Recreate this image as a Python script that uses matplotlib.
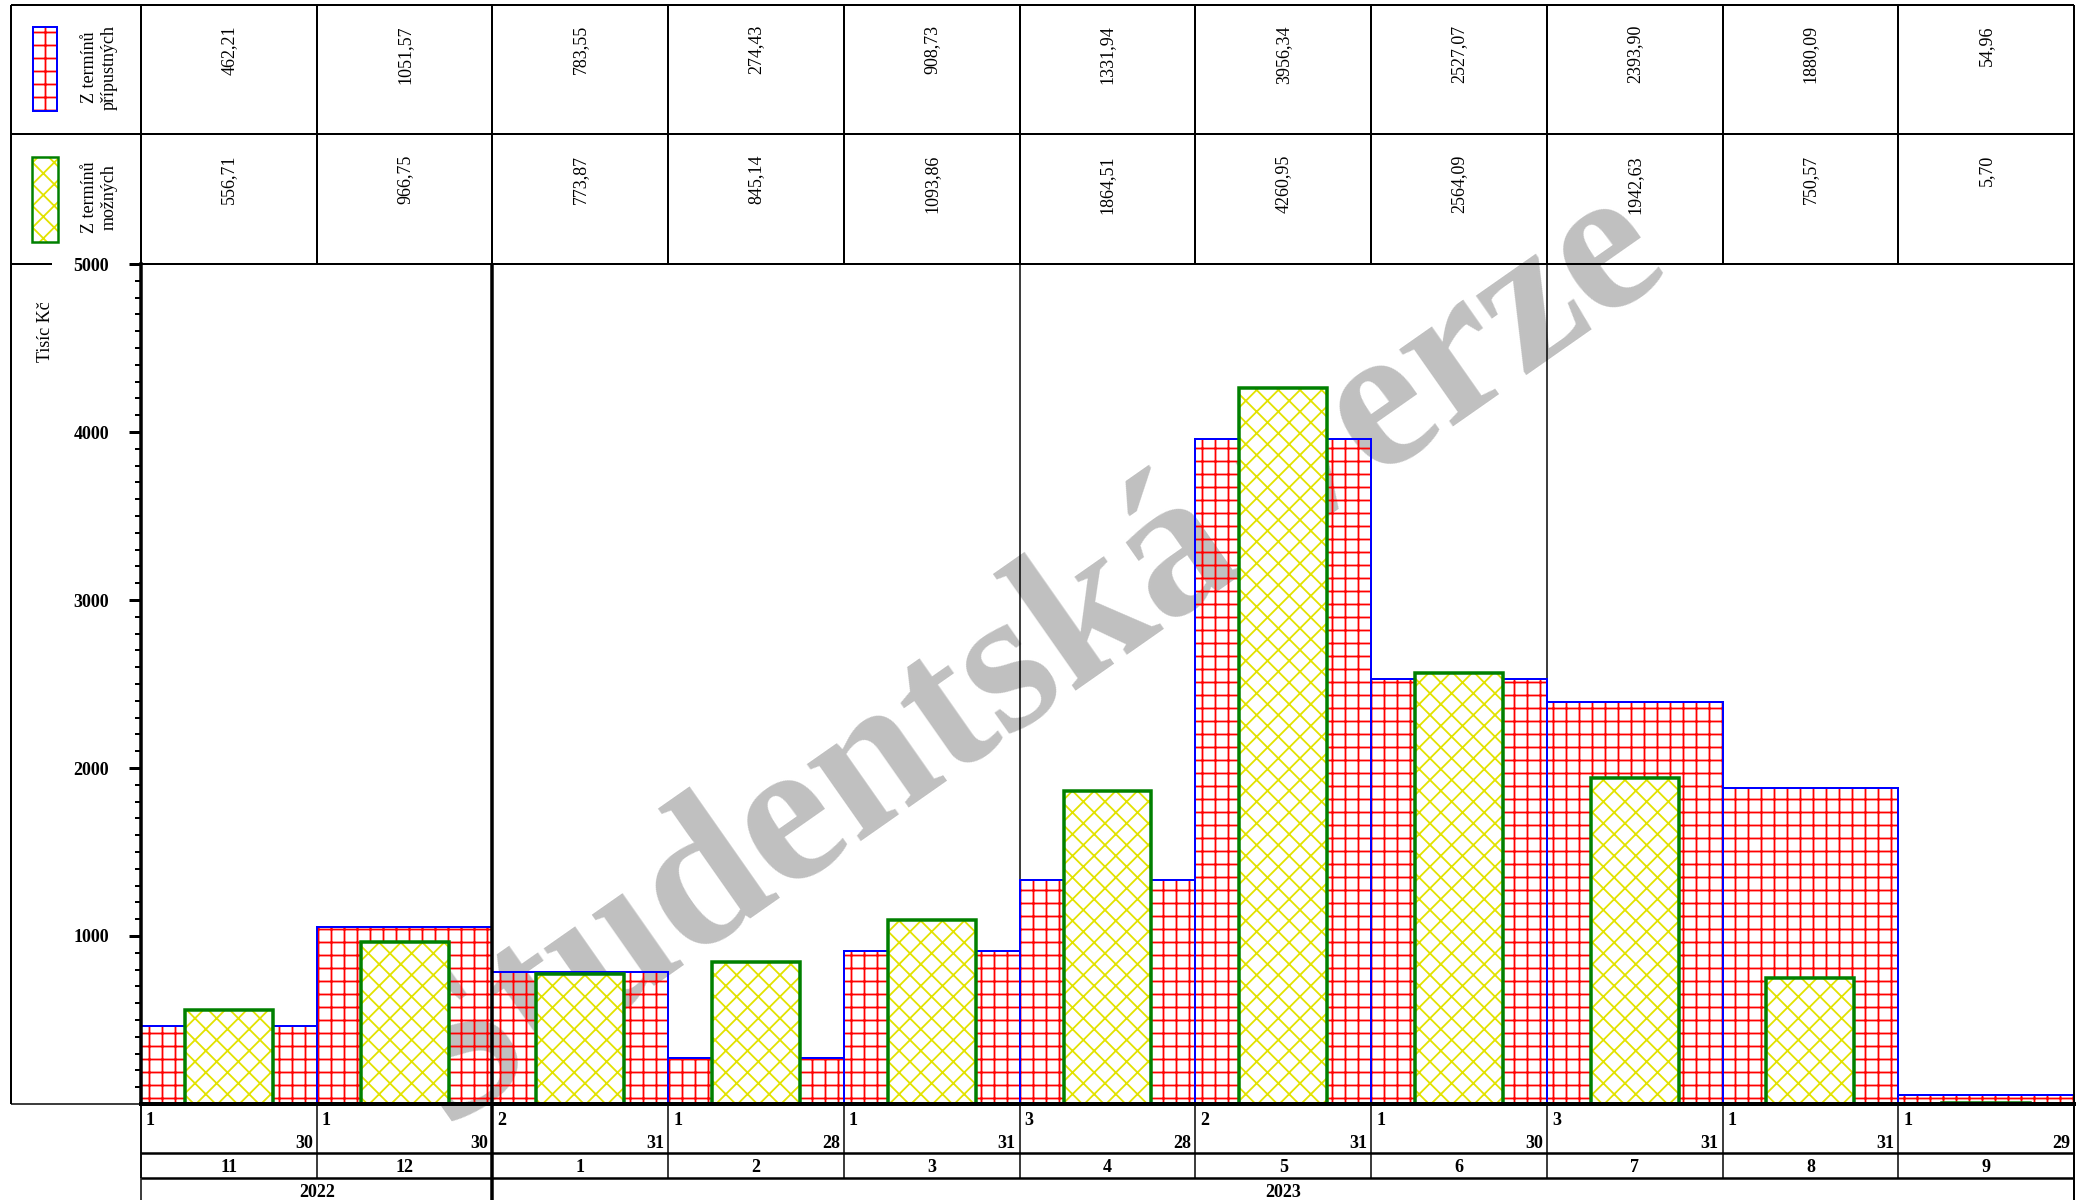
import numpy as np
import matplotlib.pyplot as plt
from matplotlib.patches import Rectangle

# high dpi so that the built-in hatch densities give the spacing of the original
DPI = 390
W, H = 2083, 1200


def px(v):
    # pixels -> points
    return v * 72.0 / DPI


plt.rcParams['font.family'] = ['Liberation Serif', 'DejaVu Serif']
plt.rcParams['hatch.linewidth'] = px(1.8)

months = ['11', '12', '1', '2', '3', '4', '5', '6', '7', '8', '9']
first_day = ['1', '1', '2', '1', '1', '3', '2', '1', '3', '1', '1']
last_day = ['30', '30', '31', '28', '31', '28', '31', '30', '31', '31', '29']
years = ['2022', '2023']
year_start = [0, 2]
pripustne = [462.21, 1051.57, 783.55, 274.43, 908.73, 1331.94,
             3956.34, 2527.07, 2393.90, 1880.09, 54.96]
mozne = [556.71, 966.75, 773.87, 845.14, 1093.86, 1864.51,
         4260.95, 2564.09, 1942.63, 750.57, 5.70]
yticks = [1000, 2000, 3000, 4000, 5000]

n = len(months)
# frame in pixels
X0, X1, XL = 141, 2074, 11
Y_T, Y_R1, Y_R2, Y_B, Y_D, Y_M = 5, 134, 264, 1104, 1153, 1178
cw = (X1 - X0) / n
cL = (XL - X0) / cw
FS = px(18)
GRID = '+++++'      # ~13 px squares
DIAM = 'xxxxxx'     # ~22 px diamonds

fig = plt.figure(figsize=(W / DPI, H / DPI), dpi=DPI)
ax = fig.add_axes([X0 / W, 1 - Y_B / H, (X1 - X0) / W, (Y_B - Y_R2) / H])
ax.set_xlim(0, n)
ax.set_ylim(0, 5000)

xc = np.arange(n) + 0.5
ax.bar(xc, pripustne, width=1.0, facecolor='none', edgecolor='red',
       hatch=GRID, linewidth=0, zorder=2)
ax.bar(xc, pripustne, width=1.0, facecolor='none', edgecolor='blue',
       linewidth=px(2), zorder=2.1)
ax.bar(xc, mozne, width=0.5, facecolor='white', edgecolor='#e2e200',
       hatch=DIAM, linewidth=0, zorder=3)
ax.bar(xc, mozne, width=0.5, facecolor='none', edgecolor='green',
       linewidth=px(3.5), zorder=3.1)

# quarter separators
for i, m in enumerate(months):
    if int(m) in (4, 7, 10):
        ax.axvline(i, color='black', lw=px(1.5), zorder=1.5)

# watermark
ax.text(1031 / W, 1 - 662 / H, 'Studentská verze', transform=fig.transFigure,
        fontsize=px(205), fontweight='bold', color='#c0c0c0', rotation=35,
        ha='center', va='center', rotation_mode='anchor', zorder=0.5,
        clip_on=False)

ax.set_xticks([])
ax.set_yticks(yticks)
ax.set_yticklabels([str(v) for v in yticks], fontweight='bold', fontsize=FS)
ax.set_yticks([v for v in range(100, 5000, 100) if v % 1000], minor=True)
ax.tick_params(axis='y', which='major', length=px(12), width=px(3), pad=px(20))
ax.tick_params(axis='y', which='minor', length=px(6), width=px(2))
for s in ['top', 'right']:
    ax.spines[s].set_visible(False)
ax.spines['left'].set_linewidth(px(3.5))
ax.spines['bottom'].set_linewidth(px(4))
ax.spines['bottom'].set_zorder(5)

# overlay: x in month columns, y in pixels from the top
ov = fig.add_axes([0, 0, 1, 1], zorder=1)
ov.set_xlim(-X0 / cw, (W - X0) / cw)
ov.set_ylim(H, 0)
ov.axis('off')


def hl(y, a, b, lw=2):
    ov.plot([a, b], [y, y], color='black', lw=px(lw), solid_capstyle='butt')


def vl(c, a, b, lw=2):
    ov.plot([c, c], [a, b], color='black', lw=px(lw), solid_capstyle='butt')


hl(Y_T, cL, n)
hl(Y_R1, cL, n)
hl(Y_R2, cL, (52 - X0) / cw)
hl(Y_R2, 0, n)
hl(Y_B, cL, 0, 1.5)
vl(cL, Y_T, Y_B)
for i in range(n + 1):
    vl(i, Y_T, Y_R2)
    vl(i, Y_B, Y_M, 1.5)
vl(n, Y_R2, H, 2)
vl(0, Y_B, H, 1.5)
for s in year_start[1:]:
    vl(s, Y_R2, H, 3.5)
hl(Y_D, 0, n, 2.5)
hl(Y_M, 0, n, 2.5)


def fmt(v):
    return f'{v:.2f}'.replace('.', ',')


for i in range(n):
    ov.text(i + 0.5, 25, fmt(pripustne[i]), rotation=90, ha='center', va='top',
            fontsize=FS)
    ov.text(i + 0.5, 155, fmt(mozne[i]), rotation=90, ha='center', va='top',
            fontsize=FS)
    ov.text(i + 5 / cw, 1125, first_day[i], ha='left', va='baseline',
            fontsize=FS, fontweight='bold')
    ov.text(i + 1 - 4 / cw, 1148, last_day[i], ha='right', va='baseline',
            fontsize=FS, fontweight='bold')
    ov.text(i + 0.5, 1172, months[i], ha='center', va='baseline',
            fontsize=FS, fontweight='bold')

year_end = year_start[1:] + [n]
for y, a, b in zip(years, year_start, year_end):
    ov.text((a + b) / 2, 1197, y, ha='center', va='baseline',
            fontsize=FS, fontweight='bold')

# legend cells
ov.add_patch(Rectangle(((33 - X0) / cw, 27), 24 / cw, 84, facecolor='none',
                       edgecolor='red', hatch=GRID, lw=0))
ov.add_patch(Rectangle(((33 - X0) / cw, 27), 24 / cw, 84, facecolor='none',
                       edgecolor='blue', lw=px(2)))
ov.add_patch(Rectangle(((32 - X0) / cw, 157), 26 / cw, 85, facecolor='white',
                       edgecolor='#e2e200', hatch=DIAM, lw=0))
ov.add_patch(Rectangle(((32 - X0) / cw, 157), 26 / cw, 85, facecolor='none',
                       edgecolor='green', lw=px(2.5)))
ov.text((99 - X0) / cw, 67, 'Z termínů\npřípustných', rotation=90,
        ha='center', va='center', multialignment='center', fontsize=FS)
ov.text((99 - X0) / cw, 197, 'Z termínů\nmožných', rotation=90,
        ha='center', va='center', multialignment='center', fontsize=FS)
ov.text((45 - X0) / cw, 332, 'Tisíc Kč', rotation=90, ha='center',
        va='center', fontsize=FS)

fig.savefig('out.png', dpi=DPI)
